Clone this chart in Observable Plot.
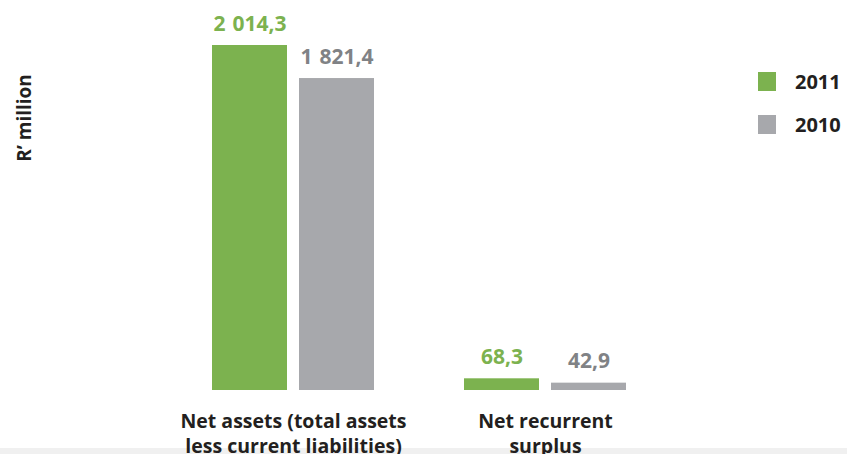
<!DOCTYPE html>
<html><head><meta charset="utf-8">
<script src="https://cdn.jsdelivr.net/npm/d3@7"></script>
<script src="https://cdn.jsdelivr.net/npm/@observablehq/plot@0.6"></script>
<style>
body{margin:0;background:#fff;font-family:"Open Sans",sans-serif;}
#wrap{position:relative;width:847px;height:454px;overflow:hidden;background:#fff}
#strip{position:absolute;left:0;top:448px;width:847px;height:6px;background:#f0f0f0}
#chart{position:absolute;left:0;top:0}
#ylabel{position:absolute;left:24px;top:118px;transform:translate(-50%,-50%) rotate(-90deg);font-weight:bold;font-size:19px;color:#231f20;white-space:nowrap}
.lg{position:absolute;left:758px;display:flex;align-items:center;font-weight:bold;font-size:20px;color:#231f20}
.lg span.sw{display:inline-block;width:18px;height:19px;margin-right:19px}
</style></head><body><div id="wrap"><div id="strip"></div><div id="chart"></div><div id="ylabel"></div><div id="legend"></div></div>
<script>
const categories = ["Net assets (total assets\nless current liabilities)", "Net recurrent\nsurplus"];
const years = ["2011", "2010"];
const values2011 = [2014.3, 68.3];
const values2010 = [1821.4, 42.9];
const barColors = ["#7cb24f", "#a7a8ac"];
const labelColors = ["#7cb24f", "#808285"];
const yLabel = "R’ million";

const fmt = d3.formatLocale({decimal: ",", thousands: "\u2004", grouping: [3]}).format(",.1f");
const data = categories.flatMap((c, i) => [
  {category: c, year: years[0], value: values2011[i]},
  {category: c, year: years[1], value: values2010[i]}
]);

const chart = Plot.plot({
  width: 847, height: 454,
  marginLeft: 167, marginRight: 176, marginTop: 45, marginBottom: 64,
  style: {fontFamily: "'Open Sans', sans-serif", background: "transparent"},
  fx: {domain: categories, padding: 0, axis: null},
  x: {domain: years, paddingInner: 0.138, paddingOuter: 0.517, axis: null},
  y: {domain: [0, d3.max(values2011)], axis: null},
  color: {domain: years, range: barColors},
  marks: [
    Plot.barY(data, {fx: "category", x: "year", y: "value", fill: "year"}),
    ...years.map((yr, j) => Plot.text(data.filter(d => d.year === yr), {
      fx: "category", x: "year", y: "value", text: d => fmt(d.value),
      fill: labelColors[j], dy: -15, lineAnchor: "bottom", fontSize: 21, fontWeight: "bold"
    })),
    Plot.text(categories, {fx: d => d, text: d => d, frameAnchor: "bottom", lineAnchor: "top",
      dy: 20, fontSize: 19.5, fontWeight: "bold", fill: "#231f20", lineHeight: 1.28})
  ]
});
document.getElementById("chart").appendChild(chart);
document.getElementById("ylabel").textContent = yLabel;
const lg = document.getElementById("legend");
years.forEach((yr, j) => {
  const row = document.createElement("div");
  row.className = "lg";
  row.style.top = (68 + j * 43) + "px";
  row.innerHTML = `<span class="sw" style="background:${barColors[j]}"></span><span>${yr}</span>`;
  lg.appendChild(row);
});
</script></body></html>
